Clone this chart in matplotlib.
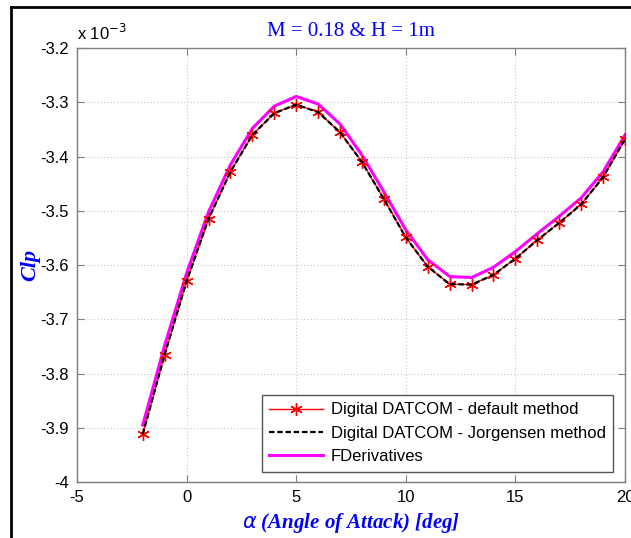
import matplotlib
matplotlib.use("Agg")
import matplotlib.pyplot as plt
from matplotlib.lines import Line2D

alpha = [-2, -1, 0, 1, 2, 3, 4, 5, 6, 7, 8, 9, 10, 11, 12, 13, 14, 15, 16, 17, 18, 19, 20]
clp_default = [-3.912, -3.765, -3.630, -3.515, -3.428, -3.360, -3.320, -3.304, -3.318,
               -3.355, -3.410, -3.478, -3.549, -3.603, -3.635, -3.636, -3.618, -3.588,
               -3.554, -3.522, -3.488, -3.438, -3.368]
clp_jorgensen = [-3.912, -3.765, -3.630, -3.515, -3.428, -3.360, -3.320, -3.304, -3.318,
                 -3.355, -3.410, -3.478, -3.549, -3.603, -3.635, -3.636, -3.618, -3.588,
                 -3.554, -3.522, -3.488, -3.438, -3.368]
clp_fderiv = [-3.895, -3.748, -3.615, -3.502, -3.415, -3.348, -3.307, -3.289, -3.303,
              -3.340, -3.397, -3.465, -3.535, -3.590, -3.621, -3.623, -3.604, -3.575,
              -3.542, -3.510, -3.476, -3.428, -3.360]
labels = ["Digital DATCOM - default method", "Digital DATCOM - Jorgensen method", "FDerivatives"]
xticks = [-5, 0, 5, 10, 15, 20]
yticks = [-4.0, -3.9, -3.8, -3.7, -3.6, -3.5, -3.4, -3.3, -3.2]

plt.rcParams['font.family'] = ['Liberation Sans', 'DejaVu Sans']
fig = plt.figure(figsize=(6.31, 5.38), dpi=100)
ax = fig.add_axes([0.122, 0.104, 0.8685, 0.8065])

ax.plot(alpha, clp_default, color='red', lw=1.0, marker=(6, 2, 0), ms=9, mew=1.0,
        label=labels[0], zorder=3)
ax.plot(alpha, clp_jorgensen, color='black', lw=1.6, ls=(0, (2.5, 1.2)), label=labels[1], zorder=4)
ax.plot(alpha, clp_fderiv, color='#ff00ff', lw=2.2, label=labels[2], zorder=2)

ax.set_xlim(-5, 20)
ax.set_ylim(-4.0, -3.2)
ax.set_xticks(xticks)
ax.set_yticks(yticks)
ax.set_xticklabels([str(v) for v in xticks])
ax.set_yticklabels(['-4', '-3.9', '-3.8', '-3.7', '-3.6', '-3.5', '-3.4', '-3.3', '-3.2'])
ax.tick_params(direction='in', top=True, right=True, length=5, width=0.8, color='#7f7f7f',
               labelsize=12, labelcolor='black', pad=6)
for s in ax.spines.values():
    s.set_color('#7f7f7f')
    s.set_linewidth(1.0)
ax.grid(True, ls=(0, (1, 2)), color='#c8c8c8', lw=0.8)

ax.text(0.0, 1.012, r'x 10$^{-3}$', transform=ax.transAxes, fontsize=12, ha='left', va='bottom')
ax.set_title('M = 0.18 & H = 1m', color='blue', fontfamily='Liberation Serif', fontsize=15, pad=9)
ax.set_xlabel(r'$\alpha$ (Angle of Attack) [deg]', color='blue', fontfamily='Liberation Serif',
              fontsize=15, fontweight='bold', fontstyle='italic', labelpad=4)
ax.set_ylabel('Clp', color='blue', fontfamily='Liberation Serif', fontsize=16,
              fontweight='bold', fontstyle='italic', labelpad=0)

leg = ax.legend(loc='lower right', bbox_to_anchor=(0.979, 0.024),
                fontsize=12, frameon=True, fancybox=False, edgecolor='#555555', framealpha=1,
                handlelength=3.2, borderpad=0.45, labelspacing=0.5, handletextpad=0.5,
                borderaxespad=0)
leg.get_frame().set_linewidth(1.0)

fig.add_artist(Line2D([11/631, 11/631], [0, 1 - 7/538], color='black', lw=2))
fig.add_artist(Line2D([11/631, 1], [1 - 7/538, 1 - 7/538], color='black', lw=2))

fig.savefig('out.png', dpi=100)
